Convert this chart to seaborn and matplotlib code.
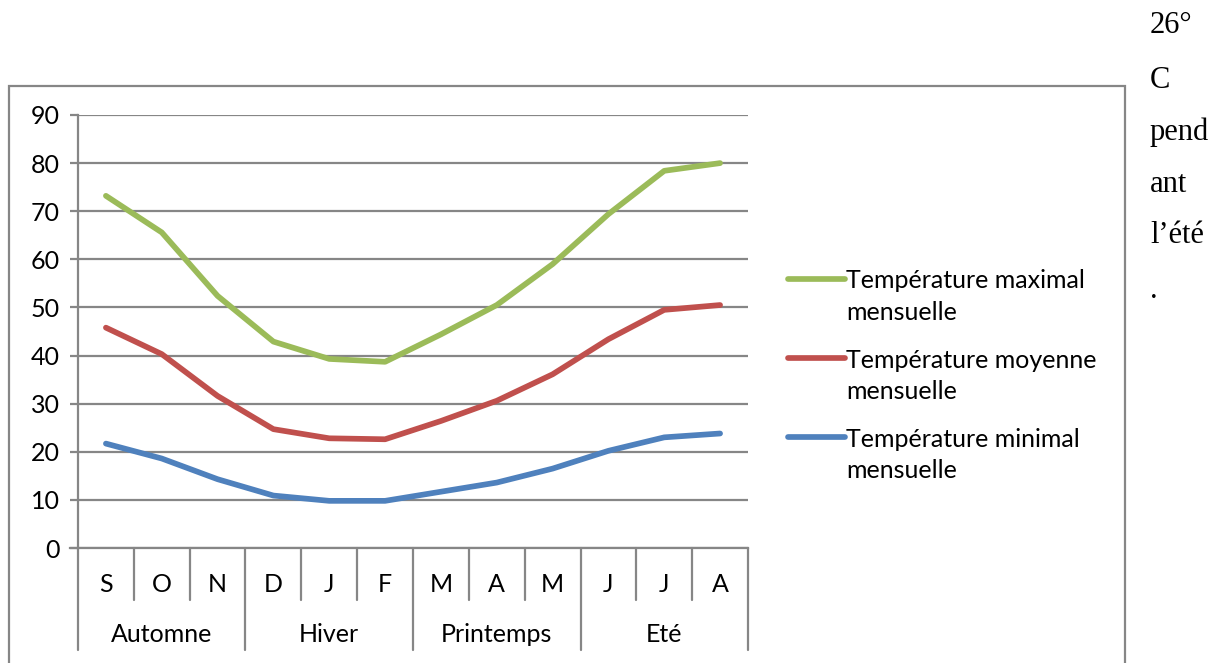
import numpy as np
import pandas as pd
import matplotlib
matplotlib.use("Agg")
import matplotlib.pyplot as plt
from matplotlib.patches import Rectangle
from matplotlib.legend_handler import HandlerLine2D
import seaborn as sns

# Monthly temperatures over the hydrological year (September -> August)
mois = ["S", "O", "N", "D", "J", "F", "M", "A", "M", "J", "J", "A"]
saisons = ["Automne", "Hiver", "Printemps", "Eté"]
temp_max = [73.2, 65.6, 52.4, 42.9, 39.3, 38.7, 44.4, 50.5, 59.0, 69.4, 78.4, 80.0]
temp_moy = [45.8, 40.3, 31.6, 24.7, 22.8, 22.6, 26.4, 30.6, 36.1, 43.4, 49.5, 50.5]
temp_min = [21.7, 18.6, 14.3, 10.9, 9.8, 9.8, 11.7, 13.6, 16.5, 20.2, 23.0, 23.8]
series = ["Température maximal\nmensuelle",
          "Température moyenne\nmensuelle",
          "Température minimal\nmensuelle"]
couleurs = ["#9BBB59", "#C0504D", "#4F81BD"]
yticks = list(range(0, 100, 10))
texte_droite = ["26°", "C", "pend", "ant", "l’été", "."]

sns.set_theme(style="white")
plt.rcParams["font.family"] = ["Lato", "DejaVu Sans"]

FS = 18
LSP = 1.43
LW = 4.1
W, H = 1222, 663
fig = plt.figure(figsize=(W / 100, H / 100), dpi=100)
ax = fig.add_axes([78 / W, (H - 548) / H, (748 - 78) / W, (548 - 115) / H])

pos = np.arange(len(mois))
df = pd.concat([
    pd.DataFrame({"pos": pos, "valeur": vals, "serie": nom})
    for nom, vals in zip(series, [temp_max, temp_moy, temp_min])
])

grid_c = "#868686"
ax.set_ylim(0, 90)
ax.set_xlim(-0.5, len(mois) - 0.5)
ax.set_yticks(yticks)
ax.yaxis.grid(True, color=grid_c, linewidth=1.6)
ax.set_axisbelow(True)

sns.lineplot(data=df, x="pos", y="valeur", hue="serie",
             palette=dict(zip(series, couleurs)), hue_order=series,
             linewidth=LW, sort=False, ax=ax, legend=False,
             solid_capstyle="round", zorder=3)

for side in ["top", "right"]:
    ax.spines[side].set_visible(False)
for side in ["left", "bottom"]:
    ax.spines[side].set_color(grid_c)
    ax.spines[side].set_linewidth(1.6)

ax.set_xlabel("")
ax.set_ylabel("")
ax.set_xticks([])
ax.tick_params(axis="y", left=True, length=6, width=1.6, color=grid_c,
               labelsize=FS, pad=7, labelcolor="#000000")
ax.spines["bottom"].set_bounds(-0.5 - 8 / 55.8, len(mois) - 0.5)

# Two-level category axis: months, then seasons
trans = ax.get_xaxis_transform()
plot_h = 548 - 115
m_end = -(600 - 548) / plot_h
s_end = -(650 - 548) / plot_h
for i in range(len(mois) + 1):
    b = i - 0.5
    low = s_end if i % 3 == 0 else m_end
    ax.plot([b, b], [0, low], transform=trans, color=grid_c,
            linewidth=1.6, clip_on=False)
for i, m in enumerate(mois):
    ax.text(i, -(584 - 548) / plot_h, m, transform=trans, ha="center",
            va="center", fontsize=FS, color="#000000")
for k, s in enumerate(saisons):
    ax.text(3 * k + 1, -(634 - 548) / plot_h, s, transform=trans,
            ha="center", va="center", fontsize=FS, color="#000000")


class FirstLineHandler(HandlerLine2D):
    """Align the legend key with the first text line of a two-line label."""
    def create_artists(self, legend, orig_handle, xdescent, ydescent,
                       width, height, fontsize, trans):
        arts = super().create_artists(legend, orig_handle, xdescent, ydescent,
                                      width, height, fontsize, trans)
        for a in arts:
            a.set_ydata(np.asarray(a.get_ydata()) + fontsize * LSP * 0.52)
        return arts


handles = ax.get_lines()[:3]
leg = fig.legend(handles, series, loc="upper left",
                 bbox_to_anchor=(765 / W, 1 - 247 / H),
                 frameon=False, fontsize=FS, handlelength=2.3,
                 handletextpad=0.05, labelspacing=1.0,
                 handler_map={h: FirstLineHandler() for h in handles})
for t in leg.get_texts():
    t.set_linespacing(LSP)
    t.set_color("#000000")
for h in leg.legend_handles:
    h.set_linewidth(LW)
    h.set_solid_capstyle("round")

# Chart frame
fig.patches.append(Rectangle((9 / W, -0.05), (1125 - 9) / W, 1.05 - 86 / H,
                             transform=fig.transFigure, fill=False,
                             edgecolor=grid_c, linewidth=1.6))

# Running text beside the chart
baselines = [33, 88, 140, 192, 243, 298]
for txt, yb in zip(texte_droite, baselines):
    fig.text(1150 / W, 1 - yb / H, txt, family="Liberation Serif",
             fontsize=22, va="baseline", ha="left", color="#000000")

fig.savefig("out.png", dpi=100)
